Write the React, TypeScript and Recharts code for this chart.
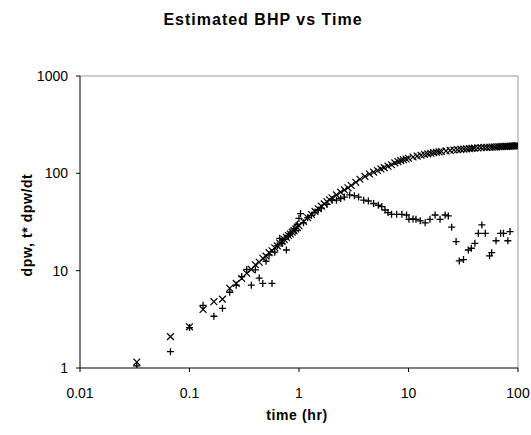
import { ScatterChart, Scatter, XAxis, YAxis, ReferenceLine } from "recharts";

// dpw (x markers)
const dpwTime = [
  0.033, 0.067, 0.1, 0.133, 0.167, 0.2, 0.233, 0.267, 0.3, 0.333, 0.367, 0.4, 0.433, 0.467, 0.5,
  0.533, 0.567, 0.6, 0.633, 0.667, 0.7, 0.733, 0.767, 0.8, 0.833, 0.867, 0.9, 0.933, 0.967, 1.0,
  1.1, 1.2, 1.3, 1.4, 1.5, 1.6, 1.7, 1.8, 1.9, 2.0, 2.2, 2.4, 2.6, 2.8, 3.0, 3.3, 3.6, 4.0, 4.4,
  4.8, 5.2, 5.6, 6.0, 6.5, 7, 7.5, 8, 8.5, 9, 9.5, 10, 11, 12, 13, 14, 15, 16, 17, 18, 19, 20, 22,
  24, 26, 28, 30, 32, 34, 36, 38, 40, 43, 46, 49, 52, 55, 58, 61, 64, 67, 70, 73, 76, 79, 82, 85,
  88, 91, 94, 97, 100,
];
const dpwValue = [
  1.15, 2.1, 2.65, 4.0, 4.8, 5.1, 6.6, 7.4, 8.3, 9.4, 10.3, 11.5, 12.2, 13.4, 14.1,
  15.3, 16.0, 17.2, 18.0, 19.2, 20.0, 21.0, 22.0, 23.0, 23.8, 24.9, 25.8, 26.8, 27.7, 29,
  32, 35, 37.8, 40.6, 43.3, 46, 48.5, 51, 53.5, 56, 60, 64, 67.5, 71, 75, 81, 87, 93, 98.5,
  103, 107, 111, 114.5, 118.5, 122.5, 128, 132, 135, 138, 140.5, 143, 147, 150.5, 153.5, 156, 158.5, 161, 163, 164.5, 166, 167.5, 170,
  172, 173.5, 175, 176.5, 177.5, 178.5, 179.5, 180.5, 181.5, 182.5, 183.5, 184.5, 185, 185.5, 186, 186.5, 187, 187.5, 188, 188.5, 189, 189.5, 190, 190,
  190.5, 191, 191.5, 192, 192.5,
];

// t* dpw/dt (+ markers)
const derivTime = [
  0.033, 0.067, 0.1, 0.133, 0.167, 0.2, 0.233, 0.267, 0.3, 0.333, 0.367, 0.4, 0.433, 0.467, 0.5,
  0.533, 0.567, 0.6, 0.633, 0.667, 0.7, 0.733, 0.767, 0.8, 0.833, 0.867, 0.9, 0.933, 0.967, 1.0,
  1.033, 1.1, 1.2, 1.3, 1.4, 1.5, 1.6, 1.8, 2.0, 2.2, 2.4, 2.6, 2.9, 3.2, 3.5, 3.9, 4.3, 4.8,
  5.3, 5.7, 6.1, 6.5, 7.0, 7.8, 8.7, 9.6, 10.1, 11.0, 11.7, 12.8, 14.2, 15.7, 17.5, 19.4, 21.6,
  23.1, 24.8, 27.2, 29.1, 31.8, 35.2, 37.5, 40.4, 43.4, 46.8, 50.3, 55, 57.5, 63, 69.4, 73.7,
  80.8, 84.5,
];
const derivValue = [
  1.05, 1.47, 2.6, 4.4, 3.4, 4.1, 6.0, 7.1, 8.7, 10.3, 7.1, 10.2, 8.4, 7.4, 12.5,
  14.5, 7.4, 15.5, 18, 21.5, 19, 21, 16.3, 23, 24, 25, 27, 26, 30, 34.4,
  38.6, 31, 35, 37, 40, 42, 44, 48, 53, 53, 55, 57, 60, 59, 57, 53, 52, 49,
  47, 45.5, 42, 39.5, 37.9, 37.9, 37.9, 37.3, 33.7, 34, 33.7, 32.5, 31, 33.7, 37.3, 33.7, 37.3,
  36.5, 28, 19.9, 12.6, 13, 16.3, 17, 19.1, 24.2, 29.5, 24.2, 14.2, 15.3, 20.3, 24.2, 24.2,
  20.3, 25.2,
];

const xTicks = [0.01, 0.1, 1, 10, 100];
const yTicks = [1, 10, 100, 1000];

const dpwData = dpwTime.map((t, i) => ({ t, v: dpwValue[i] }));
const derivData = derivTime.map((t, i) => ({ t, v: derivValue[i] }));

const font = "'Liberation Sans', Arial, sans-serif";

const XMark = (props: any) => {
  const { cx, cy } = props;
  if (cx == null || cy == null) return null;
  const r = 3.4;
  return (
    <path
      d={`M${cx - r},${cy - r}L${cx + r},${cy + r}M${cx - r},${cy + r}L${cx + r},${cy - r}`}
      stroke="#000"
      strokeWidth={1.2}
      fill="none"
    />
  );
};

const PlusMark = (props: any) => {
  const { cx, cy } = props;
  if (cx == null || cy == null) return null;
  const r = 3.5;
  return (
    <path
      d={`M${cx - r},${cy}H${cx + r}M${cx},${cy - r}V${cy + r}`}
      stroke="#000"
      strokeWidth={1.3}
      fill="none"
    />
  );
};

export default function App() {
  const tickStyle = { fontFamily: font, fontSize: 14, fill: "#000" };
  return (
    <div style={{ position: "absolute", left: 0, top: 0, width: 531, height: 435, background: "#fff" }}>
      <div
        style={{
          position: "absolute",
          left: 263,
          top: 20,
          transform: "translate(-50%, -50%)",
          fontFamily: font,
          fontWeight: "bold",
          fontSize: 16,
          letterSpacing: 1,
          whiteSpace: "nowrap",
        }}
      >
        Estimated BHP vs Time
      </div>
      <div
        style={{
          position: "absolute",
          left: 27,
          top: 225,
          transform: "translate(-50%, -50%) rotate(-90deg)",
          fontFamily: font,
          fontWeight: "bold",
          fontSize: 14,
          letterSpacing: 0.6,
          whiteSpace: "nowrap",
        }}
      >
        dpw, t* dpw/dt
      </div>
      <div
        style={{
          position: "absolute",
          left: 297,
          top: 415,
          transform: "translate(-50%, -50%)",
          fontFamily: font,
          fontWeight: "bold",
          fontSize: 14,
          letterSpacing: 0.6,
          whiteSpace: "nowrap",
        }}
      >
        time (hr)
      </div>

      <ScatterChart width={531} height={435} margin={{ top: 76, right: 13, bottom: 27, left: 0 }}>
        <XAxis
          type="number"
          dataKey="t"
          scale="log"
          domain={[0.01, 100]}
          ticks={xTicks}
          allowDataOverflow
          height={40}
          tick={tickStyle}
          tickSize={4}
          tickMargin={16}
          axisLine={{ stroke: "#000" }}
          tickLine={{ stroke: "#000" }}
          tickFormatter={(v: number) => String(v)}
        />
        <YAxis
          type="number"
          dataKey="v"
          scale="log"
          domain={[1, 1000]}
          ticks={yTicks}
          allowDataOverflow
          width={80}
          tick={tickStyle}
          tickSize={4}
          tickMargin={8}
          axisLine={{ stroke: "#000" }}
          tickLine={{ stroke: "#000" }}
          tickFormatter={(v: number) => String(v)}
        />
        <ReferenceLine y={1000} stroke="#999" />
        <ReferenceLine x={100} stroke="#999" />
        <Scatter data={derivData} shape={PlusMark} isAnimationActive={false} />
        <Scatter data={dpwData} shape={XMark} isAnimationActive={false} />
      </ScatterChart>
    </div>
  );
}
